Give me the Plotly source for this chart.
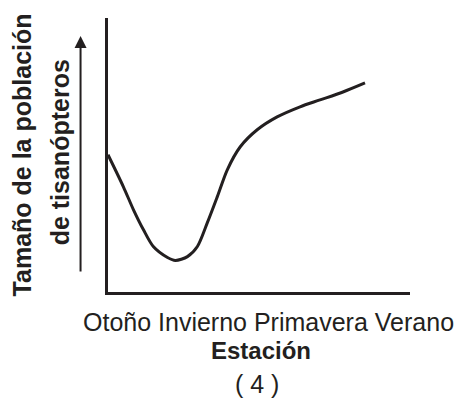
import plotly.graph_objects as go

# Data (arbitrary units, 0-100 scales)
estaciones = ["Otoño", "Invierno", "Primavera", "Verano"]
tiempo = [0, 5.1, 8.4, 11.7, 15.0, 19.7, 22.3, 26.3, 29.6, 32.9, 36.2, 39.5, 43.8, 49.4, 56.0, 63.6, 70.2, 77.8, 85.1]
poblacion = [50.1, 38.4, 30.1, 22.8, 16.6, 12.6, 11.5, 12.9, 16.6, 25.3, 34.8, 44.6, 53.0, 59.2, 63.9, 67.6, 70.1, 73.0, 76.3]

y_title_1 = "Tamaño de la población"
y_title_2 = "de tisanópteros"
x_title = "Estación"
panel_label = "( 4 )"

INK = "#231f20"
FONT = "Liberation Sans, Arial, sans-serif"
W, H = 456, 412
L, R, T, B = 107.5, 410, 18, 292.5  # plot area in pixels


def px(xp):
    return (xp - L) / (R - L)


def py(yp):
    return (B - yp) / (B - T)


fig = go.Figure()
fig.add_trace(go.Scatter(
    x=tiempo, y=poblacion, mode="lines",
    line=dict(color=INK, width=3, shape="spline", smoothing=0.8),
    hoverinfo="skip", showlegend=False,
))

fig.update_layout(
    width=W, height=H,
    margin=dict(l=L, r=W - R, t=T, b=H - B, pad=0),
    paper_bgcolor="white", plot_bgcolor="white",
    font=dict(family=FONT, color=INK),
    xaxis=dict(range=[0, 100], showgrid=False, zeroline=False, showticklabels=False,
               ticks="", showline=True, linecolor=INK, linewidth=3, fixedrange=True),
    yaxis=dict(range=[0, 100], showgrid=False, zeroline=False, showticklabels=False,
               ticks="", showline=True, linecolor=INK, linewidth=3, fixedrange=True),
    showlegend=False,
)

FS = 25
ann = []
# y title (two bold rotated lines)
ann.append(dict(text="<b>%s</b>" % y_title_1, x=px(21), y=py(155), xref="paper", yref="paper",
                textangle=-90, showarrow=False, xanchor="center", yanchor="middle",
                font=dict(size=FS, family=FONT, color=INK)))
ann.append(dict(text="<b>%s</b>" % y_title_2, x=px(59), y=py(153), xref="paper", yref="paper",
                textangle=-90, showarrow=False, xanchor="center", yanchor="middle",
                font=dict(size=FS, family=FONT, color=INK)))
# arrow
ann.append(dict(text="", x=px(80), y=py(36), xref="paper", yref="paper",
                showarrow=True, ax=0, ay=237, axref="pixel", ayref="pixel",
                arrowhead=2, arrowsize=1.2, arrowwidth=2, arrowcolor=INK))
# season labels
ann.append(dict(text=" ".join(estaciones), x=px(268), y=py(323), xref="paper", yref="paper",
                showarrow=False, xanchor="center", yanchor="middle",
                font=dict(size=FS, family=FONT, color=INK)))
ann.append(dict(text="<b>%s</b>" % x_title, x=px(261), y=py(351), xref="paper", yref="paper",
                showarrow=False, xanchor="center", yanchor="middle",
                font=dict(size=FS - 1, family=FONT, color=INK)))
ann.append(dict(text=panel_label, x=px(257), y=py(385), xref="paper", yref="paper",
                showarrow=False, xanchor="center", yanchor="middle",
                font=dict(size=FS, family=FONT, color=INK)))
fig.update_layout(annotations=ann)

fig.write_html("out.html", config=dict(displayModeBar=False),
               post_script="document.body.style.margin='0';")
